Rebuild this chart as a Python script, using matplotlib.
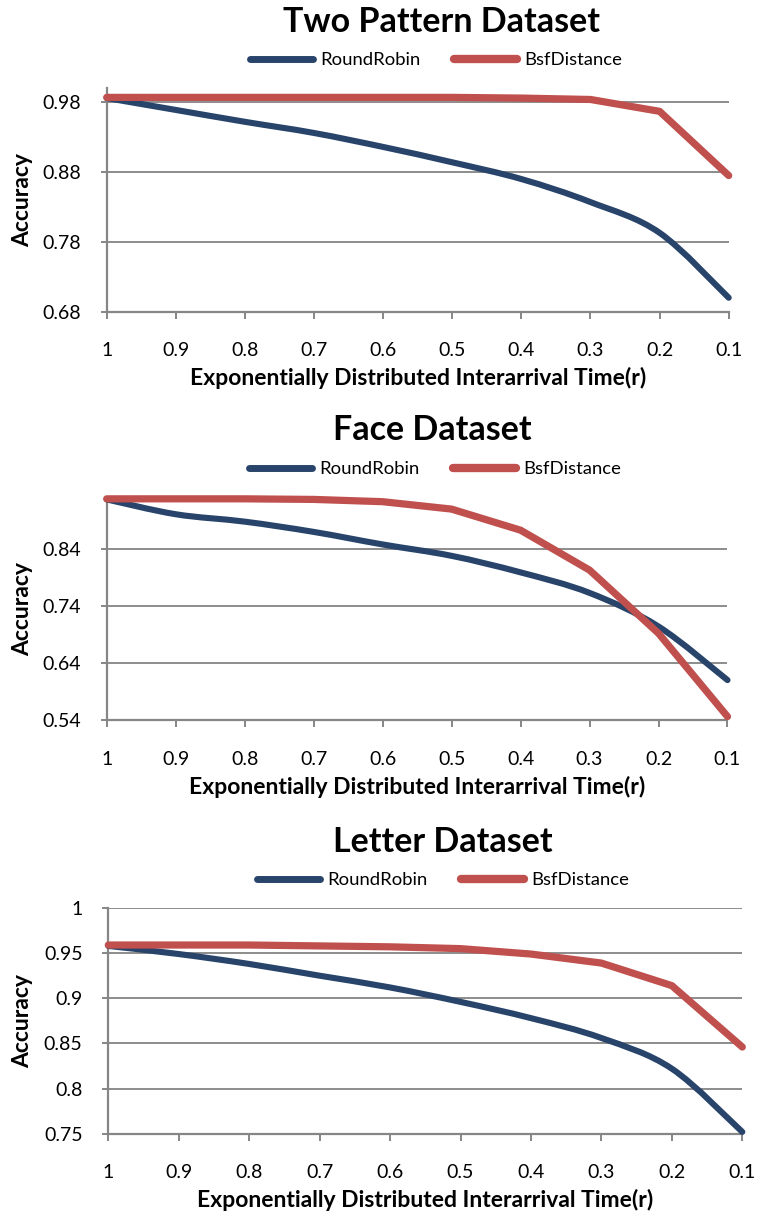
import matplotlib
matplotlib.use("Agg")
import matplotlib.pyplot as plt
from matplotlib.path import Path
from matplotlib.patches import PathPatch
from matplotlib.lines import Line2D
import numpy as np

# ---- data -------------------------------------------------------------
r_labels = ["1", "0.9", "0.8", "0.7", "0.6", "0.5", "0.4", "0.3", "0.2", "0.1"]
series_names = ["RoundRobin", "BsfDistance"]

two_pattern_rr = [0.986, 0.969, 0.952, 0.936, 0.916, 0.894, 0.870, 0.837, 0.793, 0.700]
two_pattern_bsf = [0.987, 0.987, 0.987, 0.987, 0.987, 0.987, 0.986, 0.984, 0.967, 0.875]

face_rr = [0.927, 0.901, 0.888, 0.870, 0.848, 0.828, 0.799, 0.763, 0.704, 0.610]
face_bsf = [0.928, 0.928, 0.928, 0.927, 0.923, 0.910, 0.873, 0.803, 0.692, 0.546]

letter_rr = [0.958, 0.949, 0.938, 0.925, 0.912, 0.896, 0.878, 0.856, 0.822, 0.752]
letter_bsf = [0.959, 0.959, 0.959, 0.958, 0.957, 0.955, 0.949, 0.939, 0.914, 0.846]

two_pattern_yticks = [0.68, 0.78, 0.88, 0.98]
face_yticks = [0.54, 0.64, 0.74, 0.84]
letter_yticks = [0.75, 0.8, 0.85, 0.9, 0.95, 1.0]
letter_ytick_labels = ["0.75", "0.8", "0.85", "0.9", "0.95", "1"]

# ---- style ------------------------------------------------------------
W, H = 758, 1217
DPI = 100
FONT = ["Lato", "DejaVu Sans"]
plt.rcParams["font.family"] = FONT

BLUE = "#28446A"
RED = "#C0504D"
GRID = "#8C8C8C"
AXIS = "#868686"
LW_BLUE, LW_RED = 4.4, 5.2

fig = plt.figure(figsize=(W / DPI, H / DPI), dpi=DPI)


def fx(x):
    return x / W


def fy(y):
    return 1 - y / H


def smooth_path(xs, ys):
    """Cubic Bezier path through every point (Catmull-Rom style tangents)."""
    pts = np.column_stack([xs, ys]).astype(float)
    n = len(pts)
    verts = [pts[0]]
    codes = [Path.MOVETO]
    for i in range(n - 1):
        p0 = pts[max(i - 1, 0)]
        p1 = pts[i]
        p2 = pts[i + 1]
        p3 = pts[min(i + 2, n - 1)]
        c1 = p1 + (p2 - p0) / 6.0
        c2 = p2 - (p3 - p1) / 6.0
        verts += [c1, c2, p2]
        codes += [Path.CURVE4] * 3
    return Path(verts, codes)


def panel(box, title, title_pos, legend_pos, rr, bsf, ylim, yticks, ytick_labels=None,
          xlabel_y=378):
    left, top, right, bottom = box
    ax = fig.add_axes([fx(left), fy(bottom), (right - left) / W, (bottom - top) / H])
    x = np.arange(len(r_labels))

    # RoundRobin as a smoothed curve, BsfDistance as straight segments
    ax.add_patch(PathPatch(smooth_path(x, rr), facecolor="none", edgecolor=BLUE,
                           lw=LW_BLUE, capstyle="round", joinstyle="round",
                           clip_on=False, zorder=3))
    ax.plot(x, bsf, color=RED, lw=LW_RED, solid_capstyle="round",
            solid_joinstyle="round", clip_on=False, zorder=4)

    ax.set_xlim(0, len(r_labels) - 1)
    ax.set_ylim(*ylim)
    ax.set_yticks(yticks)
    ax.set_yticklabels(ytick_labels if ytick_labels else [f"{v:.2f}" for v in yticks])
    ax.set_xticks(x)
    ax.set_xticklabels(r_labels)

    for s in ("top", "right"):
        ax.spines[s].set_visible(False)
    for s in ("left", "bottom"):
        ax.spines[s].set_color(AXIS)
        ax.spines[s].set_linewidth(1.6)
    ax.yaxis.grid(True, color=GRID, lw=1.4)
    ax.set_axisbelow(True)

    ax.tick_params(axis="x", direction="out", length=5, width=1.4, color=AXIS,
                   pad=17, labelsize=14, labelcolor="black")
    ax.tick_params(axis="y", direction="out", length=4.5, width=1.4, color=AXIS,
                   pad=14, labelsize=14, labelcolor="black")

    # axis titles
    fig.text(fx((left + right) / 2), fy(xlabel_y),
             "Exponentially Distributed Interarrival Time(r)",
             ha="center", va="center", fontsize=16.5, fontweight="bold")
    fig.text(fx(23), fy((top + bottom) / 2), "Accuracy", rotation=90,
             ha="center", va="center", fontsize=16.5, fontweight="bold")

    # chart title
    fig.text(fx(title_pos[0]), fy(title_pos[1]), title, ha="center",
             va="baseline", fontsize=24.5, fontweight="bold")

    # legend above the plot
    handles = [Line2D([], [], color=BLUE, lw=LW_BLUE + 0.6, solid_capstyle="round"),
               Line2D([], [], color=RED, lw=LW_RED + 0.8, solid_capstyle="round")]
    fig.legend(handles, series_names, loc="center",
               bbox_to_anchor=(fx(legend_pos[0]), fy(legend_pos[1])),
               ncol=2, frameon=False, fontsize=13.3, handlelength=3.4,
               handletextpad=0.4, columnspacing=1.8)
    return ax


panel((106.7, 88.3, 728.7, 311.7), "Two Pattern Dataset", (441, 32), (436, 60),
      two_pattern_rr, two_pattern_bsf, (0.68, 1.0), two_pattern_yticks,
      xlabel_y=378)

panel((106.7, 497.7, 727.5, 720.0), "Face Dataset", (432, 440), (435, 469),
      face_rr, face_bsf, (0.54, 0.93), face_yticks,
      xlabel_y=787)

panel((108.3, 908.0, 742.3, 1133.7), "Letter Dataset", (443, 852), (443, 880),
      letter_rr, letter_bsf, (0.75, 1.0), letter_yticks, letter_ytick_labels,
      xlabel_y=1200)

fig.savefig("out.png", dpi=DPI)
